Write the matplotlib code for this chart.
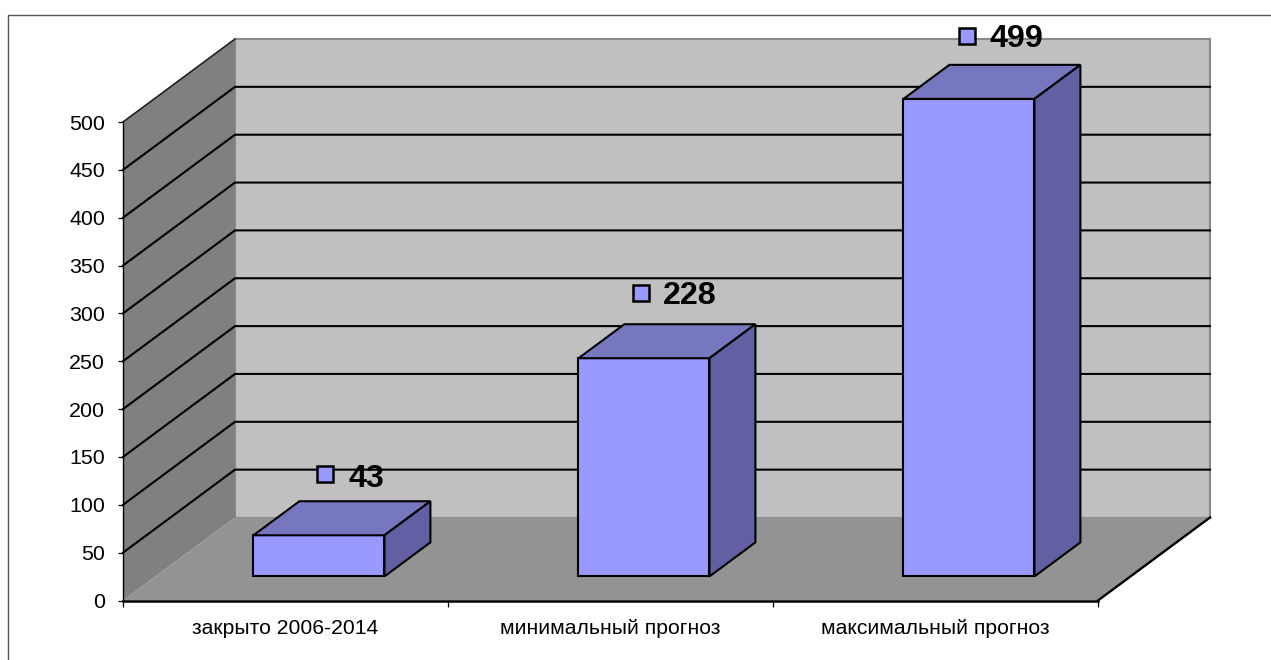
import matplotlib
matplotlib.use("Agg")
import matplotlib.pyplot as plt
from matplotlib.lines import Line2D
from matplotlib.patches import Polygon

categories = ["закрыто 2006-2014", "минимальный прогноз", "максимальный прогноз"]
values = [43, 228, 499]
y_ticks = [0, 50, 100, 150, 200, 250, 300, 350, 400, 450, 500]

W, H = 1271, 660
plt.rcParams['font.family'] = ['Liberation Sans', 'DejaVu Sans']

# front plane of the fake 3d box, in pixels
left, right, top, bottom = 123, 1098, 122, 600.5
cat_px = (right - left) / 3.0
val_px = (bottom - top) / 500.0

# depth of the box in data units
dx = 112 / cat_px
dy = 83 / val_px
bar_w = 131 / cat_px
pad = (1 - bar_w) / 2.0 + 1 / cat_px


def side(x, y, depth):
    return (x + depth * dx, y + depth * dy)


fig = plt.figure(figsize=(W / 100, H / 100), dpi=100, facecolor="white")
ax = fig.add_axes([left / W, 1 - bottom / H, (right - left) / W, (bottom - top) / H])
ax.set_xlim(0, 3)
ax.set_ylim(0, 500)
ax.patch.set_visible(False)

# walls and floor
ax.add_patch(Polygon([side(0, 0, 1), side(3, 0, 1), side(3, 500, 1), side(0, 500, 1)],
                     fc="#C0C0C0", ec="#8a8a8a", lw=1.5, clip_on=False, zorder=1))
ax.add_patch(Polygon([(0, 0), side(0, 0, 1), side(0, 500, 1), (0, 500)],
                     fc="#808080", ec="none", clip_on=False, zorder=1.1))
ax.add_patch(Polygon([(0, 0), (3, 0), side(3, 0, 1), side(0, 0, 1)],
                     fc="#939393", ec="none", clip_on=False, zorder=1.2))

# grid lines go along the side wall and then the back wall
for v in y_ticks[1:-1]:
    ax.plot([0, dx, 3 + dx], [v, v + dy, v + dy], color="black", lw=1.5,
            clip_on=False, zorder=2, solid_joinstyle="miter")
ax.plot([0, dx], [500, 500 + dy], color="#222222", lw=1.2, clip_on=False, zorder=2)
ax.plot([3, 3 + dx], [0, dy], color="black", lw=1.7, clip_on=False, zorder=2)

# bars sit halfway back in the box, and take 0.41 of the depth
for i, v in enumerate(values):
    x0 = i + pad + 0.29 * dx
    y0 = 0.29 * dy
    x1 = x0 + bar_w
    d = 0.41
    ax.add_patch(Polygon([(x0, y0), (x1, y0), (x1, y0 + v), (x0, y0 + v)],
                         fc="#9999FF", ec="black", lw=1.5, clip_on=False, zorder=3,
                         joinstyle="miter"))
    ax.add_patch(Polygon([(x0, y0 + v), (x1, y0 + v), side(x1, y0 + v, d), side(x0, y0 + v, d)],
                         fc="#7777BF", ec="black", lw=1.5, clip_on=False, zorder=3,
                         joinstyle="miter"))
    ax.add_patch(Polygon([(x1, y0), side(x1, y0, d), side(x1, y0 + v, d), (x1, y0 + v)],
                         fc="#6060A3", ec="black", lw=1.5, clip_on=False, zorder=3,
                         joinstyle="miter"))

# data labels with the little legend key in front
nudge_x = [7, -2, -1]
nudge_y = [-3, 1, -1]
text_dy = [4.5, 3, 3.5]
text_dx = [24, 22, 23]
for i, v in enumerate(values):
    lx = i + pad + 0.29 * dx + bar_w / 2 + 0.205 * dx + (nudge_x[i] - 24) / cat_px
    ly = 0.29 * dy + v + 0.205 * dy + (47 + nudge_y[i]) / val_px
    ax.plot([lx], [ly], marker="s", ms=12, mfc="#9999FF", mec="black", mew=1.8,
            clip_on=False, zorder=5)
    ax.annotate(str(v), (lx, ly), xytext=(text_dx[i] / 1.389, -text_dy[i] / 1.389), textcoords="offset points",
                fontsize=23.2, fontweight="bold", va="center", ha="left",
                annotation_clip=False, zorder=6)

ax.set_yticks(y_ticks)
ax.set_xticks([0, 1, 2, 3])
ax.set_xticklabels([])
ax.set_xticks([0.5, 1.5, 2.5], minor=True)
ax.set_xticklabels(categories, minor=True)
ax.tick_params(axis="y", length=3.6, width=0.9, pad=9.4, labelsize=15.4)
ax.tick_params(axis="x", which="major", length=4, width=0.9)
ax.tick_params(axis="x", which="minor", length=0, pad=13.4, labelsize=15.2)

for s in ["top", "right"]:
    ax.spines[s].set_visible(False)
ax.spines["left"].set_linewidth(1.0)
ax.spines["bottom"].set_linewidth(1.8)
ax.spines["left"].set_zorder(4)
ax.spines["bottom"].set_zorder(4)

# outer frame of the chart, cut off by the picture on two sides
fig.add_artist(Line2D([8 / W, 8 / W, 1], [0, 1 - 15 / H, 1 - 15 / H], color="#555555", lw=1.0))

fig.savefig("out.png", dpi=100)
